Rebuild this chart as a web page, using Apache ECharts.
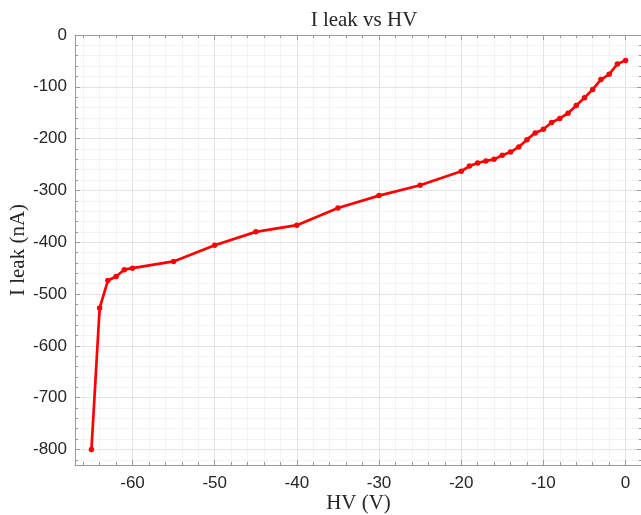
<!DOCTYPE html>
<html>
<head>
<meta charset="utf-8">
<script src="https://cdn.jsdelivr.net/npm/echarts@6/dist/echarts.min.js"></script>
<style>html,body{margin:0;padding:0;background:#fff;}#c{width:641px;height:515px;}</style>
</head>
<body>
<div id="c"></div>
<script>
const hv = [-65,-64,-63,-62,-61,-60,-55,-50,-45,-40,-35,-30,-25,-20,-19,-18,-17,-16,-15,-14,-13,-12,-11,-10,-9,-8,-7,-6,-5,-4,-3,-2,-1,0];
const ileak = [-800,-527,-474,-466,-453,-450,-437,-406,-380,-367,-334,-310,-290,-263,-253,-247,-243,-240,-232,-226,-216,-202,-189,-182,-169,-161,-151,-136,-121,-105,-86,-76,-56,-49];
const xMajorStep = 10, xMinorStep = 2, yMajorStep = 100, yMinorStep = 20;
const xRange = [-67, 2], yRange = [-830, 0];

const boxColor = '#9a9a9a';
const labelColor = '#262626';
const serif = '"Liberation Serif", "DejaVu Serif", serif';
const sans = '"Liberation Sans", Arial, sans-serif';

function xAxisDef(pos, major, opts) {
  const step = major ? xMajorStep : xMinorStep;
  return Object.assign({
    type: 'value', gridIndex: 0, position: pos,
    min: xRange[0], max: xRange[1], minInterval: step, maxInterval: step,
    z: major ? 1 : 0,
    axisLine: { show: major, onZero: false, lineStyle: { color: boxColor, width: 1 } },
    axisTick: { show: true, inside: true, length: major ? 5 : 3, lineStyle: { color: boxColor } },
    axisLabel: { show: false },
    splitLine: { show: false }
  }, opts || {});
}
function yAxisDef(pos, major, opts) {
  const step = major ? yMajorStep : yMinorStep;
  return Object.assign({
    type: 'value', gridIndex: 0, position: pos,
    min: yRange[0], max: yRange[1], minInterval: step, maxInterval: step,
    z: major ? 1 : 0,
    axisLine: { show: major, onZero: false, lineStyle: { color: boxColor, width: 1 } },
    axisTick: { show: true, inside: true, length: major ? 5 : 3, lineStyle: { color: boxColor } },
    axisLabel: { show: false },
    splitLine: { show: false }
  }, opts || {});
}

const option = {
  backgroundColor: '#ffffff',
  animation: false,
  title: {
    text: 'I leak vs HV', left: 359, top: 5, textAlign: 'center',
    textStyle: { fontFamily: serif, fontSize: 21, fontWeight: 'normal', color: labelColor }
  },
  grid: { left: 75, right: -1, top: 35, bottom: 50, containLabel: false, outerBoundsMode: 'none' },
  xAxis: [
    xAxisDef('bottom', true, {
      name: 'HV (V)', nameLocation: 'middle', nameGap: 28, nameMoveOverlap: false,
      nameTextStyle: { fontFamily: serif, fontSize: 21, color: labelColor },
      axisLabel: { show: true, margin: 10, color: labelColor, fontFamily: sans, fontSize: 17,
        formatter: v => (v % xMajorStep === 0 ? String(v) : '') },
      splitLine: { show: true, lineStyle: { color: '#e2e2e2', width: 1 } }
    }),
    xAxisDef('bottom', false, {
      splitLine: { show: true, lineStyle: { color: '#f3f3f3', width: 1 } }
    }),
    xAxisDef('top', true),
    xAxisDef('top', false)
  ],
  yAxis: [
    yAxisDef('left', true, {
      name: 'I leak (nA)', nameLocation: 'middle', nameGap: 46, nameRotate: 90, nameMoveOverlap: false,
      nameTextStyle: { fontFamily: serif, fontSize: 21, color: labelColor },
      axisLabel: { show: true, margin: 8, color: labelColor, fontFamily: sans, fontSize: 17,
        formatter: v => (v % yMajorStep === 0 ? String(v) : '') },
      splitLine: { show: true, lineStyle: { color: '#e2e2e2', width: 1 } }
    }),
    yAxisDef('left', false, {
      splitLine: { show: true, lineStyle: { color: '#f3f3f3', width: 1 } }
    }),
    yAxisDef('right', true),
    yAxisDef('right', false)
  ],
  series: [{
    type: 'line', xAxisIndex: 0, yAxisIndex: 0, z: 5,
    data: hv.map((x, i) => [x, ileak[i]]),
    symbol: 'circle', symbolSize: 5.5, showSymbol: true,
    lineStyle: { color: '#ff0000', width: 2.7 },
    itemStyle: { color: '#ff0000' },
    clip: false
  }]
};

const chart = echarts.init(document.getElementById('c'), null, { renderer: 'canvas' });
chart.setOption(option);
</script>
</body>
</html>
